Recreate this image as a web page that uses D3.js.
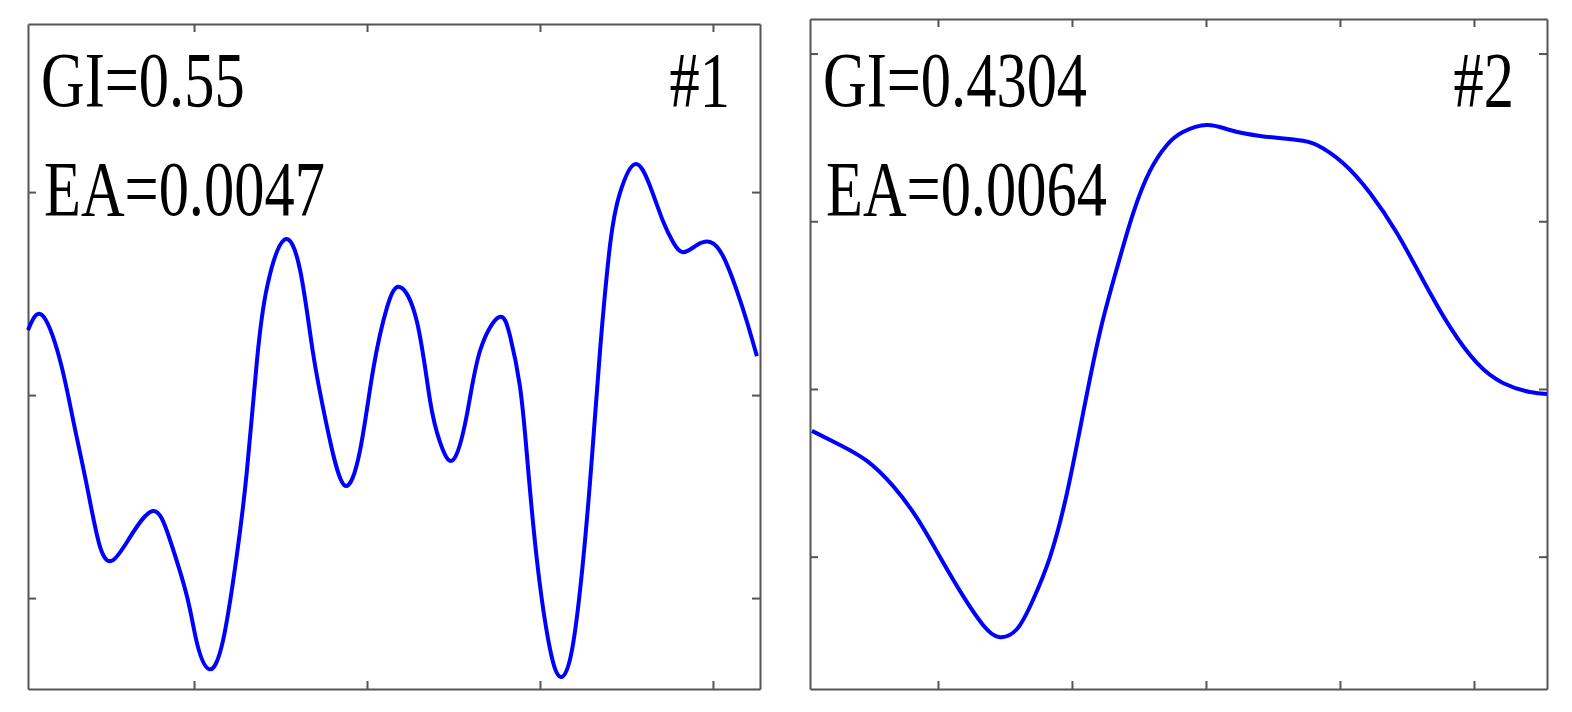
<!DOCTYPE html>
<html>
<head>
<meta charset="utf-8">
<script src="https://cdn.jsdelivr.net/npm/d3@7"></script>
<style>
    html, body { margin: 0; padding: 0; background: #fff; }
    svg { display: block; }
    .frame path, .frame line { stroke: #555; stroke-width: 2; }
    .label { font-family: 'Liberation Serif', 'Times New Roman', serif; font-size: 78px; fill: #000; }
</style>
</head>
<body>
<div id="chart"></div>
<script>
// Panel #1 signal
const p1X = [0.040, 0.121, 0.225, 0.301, 0.382, 0.457, 0.532, 0.630, 0.763, 0.861, 0.960, 1.017, 1.087, 1.168,
    1.249, 1.306, 1.364, 1.422, 1.520, 1.613, 1.688, 1.769, 1.867, 1.960, 2.035, 2.116, 2.191, 2.289, 2.364,
    2.422, 2.497, 2.578, 2.653, 2.763, 2.827, 2.884, 2.925, 2.983, 3.058, 3.121, 3.185, 3.249, 3.301, 3.347, 3.405,
    3.462, 3.549, 3.636, 3.711, 3.769, 3.827, 3.908, 3.983, 4.058, 4.139, 4.197, 4.254];
const p1Y = [0.320, 0.394, 0.172, -0.123, -0.453, -0.749, -0.813, -0.700, -0.571, -0.714, -0.995, -1.222, -1.350, -1.207,
    -0.778, -0.369, 0.172, 0.532, 0.764, 0.616, 0.207, -0.158, -0.443, -0.271, 0.123, 0.433, 0.532, 0.360, -0.025,
    -0.232, -0.320, -0.094, 0.217, 0.384, 0.291, 0.044, -0.300, -0.818, -1.251, -1.389, -1.256, -0.818, -0.300, 0.217, 0.739,
    0.995, 1.138, 1.030, 0.857, 0.754, 0.704, 0.739, 0.754, 0.685, 0.512, 0.360, 0.192];

// Panel #2 signal
const p2X = [0.060, 0.269, 0.470, 0.664, 0.843, 1.015, 1.187, 1.336, 1.455, 1.590, 1.709, 1.836, 1.963, 2.082,
    2.209, 2.336, 2.455, 2.582, 2.709, 2.828, 3.007, 3.179, 3.403, 3.679, 3.828, 4.022, 4.224, 4.425, 4.619,
    4.821, 5.022, 5.216, 5.418, 5.545];
const p2Y = [-0.250, -0.334, -0.429, -0.578, -0.769, -1.002, -1.234, -1.407, -1.479, -1.431, -1.258, -1.002, -0.620, -0.149,
    0.340, 0.722, 1.044, 1.300, 1.455, 1.532, 1.574, 1.544, 1.509, 1.485, 1.455, 1.348, 1.169, 0.930, 0.650,
    0.370, 0.155, 0.036, -0.018, -0.030];

// Ticks (unlabelled)
const p1XTicks = [1, 2, 3, 4];
const p1YTicks = [-1, 0, 1];
const p2XTicks = [1, 2, 3, 4, 5];
const p2YTicks = [-1, 0, 1, 2];

// Annotations
const p1Labels = ['GI=0.55', 'EA=0.0047', '#1'];
const p2Labels = ['GI=0.4304', 'EA=0.0064', '#2'];

const totalWidth = 1572;
const totalHeight = 712;

const svg = d3.select('#chart')
    .append('svg')
    .attr('width', totalWidth)
    .attr('height', totalHeight);

const panels = [
    {
        box: { left: 28, right: 760, top: 24, bottom: 689 },
        xDomain: [0.040, 4.272], yDomain: [-1.448, 1.828],
        xs: p1X, ys: p1Y, xTicks: p1XTicks, yTicks: p1YTicks, labels: p1Labels,
        textPos: [[41, 106], [44, 215], [730, 106]]
    },
    {
        box: { left: 810, right: 1547, top: 19, bottom: 689 },
        xDomain: [0.045, 5.545], yDomain: [-1.789, 2.206],
        xs: p2X, ys: p2Y, xTicks: p2XTicks, yTicks: p2YTicks, labels: p2Labels,
        textPos: [[823, 106], [826, 215], [1514, 106]]
    }
];

panels.forEach(drawPanel);

function drawPanel(p) {
    const b = p.box;
    const xScale = d3.scaleLinear().domain(p.xDomain).range([b.left, b.right]);
    const yScale = d3.scaleLinear().domain(p.yDomain).range([b.bottom, b.top]);
    const g = svg.append('g');
    const tick = 8;

    // Frame with inward ticks on all four sides
    g.append('g').classed('frame', true)
        .attr('transform', `translate(0, ${b.bottom})`)
        .call(d3.axisBottom(xScale).tickValues(p.xTicks).tickSize(-tick).tickSizeOuter(0).tickFormat(''));
    g.append('g').classed('frame', true)
        .attr('transform', `translate(0, ${b.top})`)
        .call(d3.axisTop(xScale).tickValues(p.xTicks).tickSize(-tick).tickSizeOuter(0).tickFormat(''));
    g.append('g').classed('frame', true)
        .attr('transform', `translate(${b.left}, 0)`)
        .call(d3.axisLeft(yScale).tickValues(p.yTicks).tickSize(-tick).tickSizeOuter(0).tickFormat(''));
    g.append('g').classed('frame', true)
        .attr('transform', `translate(${b.right}, 0)`)
        .call(d3.axisRight(yScale).tickValues(p.yTicks).tickSize(-tick).tickSizeOuter(0).tickFormat(''));

    // Signal line
    const line = d3.line()
        .curve(d3.curveNatural)
        .x(d => xScale(d[0]))
        .y(d => yScale(d[1]));

    g.append('path')
        .datum(d3.zip(p.xs, p.ys))
        .attr('fill', 'none')
        .attr('stroke', '#0000ff')
        .attr('stroke-width', 4)
        .attr('stroke-linejoin', 'round')
        .attr('d', line);

    // Text annotations (narrow serif, like the source)
    p.labels.forEach((t, i) => {
        const pos = p.textPos[i];
        g.append('text')
            .classed('label', true)
            .attr('transform', `translate(${pos[0]}, ${pos[1]}) scale(0.775, 1)`)
            .attr('text-anchor', i === 2 ? 'end' : 'start')
            .text(t);
    });
}
</script>
</body>
</html>
